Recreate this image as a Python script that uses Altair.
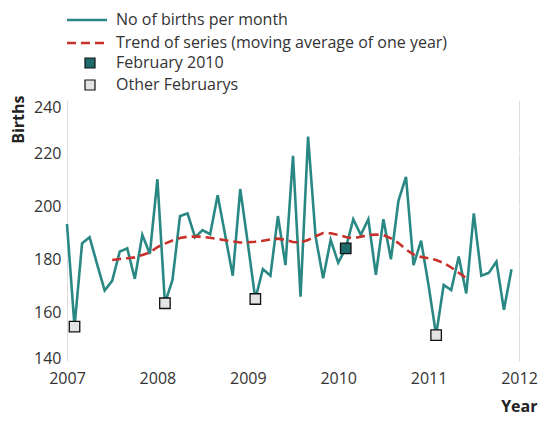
import altair as alt
import pandas as pd

# ---- data ----
start_year = 2007
births = [193.2, 154.5, 185.9, 188.2, 178.0, 168.1, 171.8, 182.8, 184.0, 172.5, 189.1, 181.9,
          210.1, 163.3, 172.1, 196.2, 197.2, 188.2, 190.9, 189.3, 204.1, 189.0, 173.7, 206.4,
          186.0, 164.9, 176.2, 173.7, 196.2, 177.7, 218.9, 165.8, 226.2, 188.4, 172.7, 187.2,
          178.6, 184.0, 195.0, 189.1, 195.0, 174.0, 195.0, 179.9, 202.0, 211.0, 177.7, 186.9,
          170.0, 151.3, 170.2, 168.3, 180.9, 167.0, 197.2, 173.7, 174.8, 179.0, 160.8, 176.1]
trend_first_month = 6  # July 2007
trend = [179.6, 180.0, 180.3, 180.6, 181.5, 182.5, 184.5, 185.8, 187.0, 187.9, 188.4, 188.5,
         188.4, 188.0, 187.6, 187.1, 186.6, 186.2, 186.3, 186.5, 186.9, 187.4, 187.7, 187.2,
         186.4, 186.3, 187.2, 188.6, 189.8, 189.7, 189.1, 188.3, 187.8, 188.4, 189.0, 189.2,
         189.0, 187.8, 186.0, 183.6, 181.7, 180.8, 180.3, 179.6, 178.5, 176.8, 174.8, 172.8]
series_names = ["No of births per month", "Trend of series (moving average of one year)"]
marker_names = ["February 2010", "Other Februarys"]
year_ticks = [2007, 2008, 2009, 2010, 2011, 2012]
births_ticks = [140, 160, 180, 200, 220, 240]

rows = []
for k, v in enumerate(births):
    rows.append({"t": start_year + k / 12, "births": v, "series": series_names[0]})
for i, v in enumerate(trend):
    k = trend_first_month + i
    rows.append({"t": start_year + k / 12, "births": v, "series": series_names[1]})
lines_df = pd.DataFrame(rows)

mk = []
for k, v in enumerate(births):
    if k % 12 == 1:
        year = start_year + k // 12
        mk.append({"t": start_year + k / 12, "births": v,
                   "marker": marker_names[0] if year == 2010 else marker_names[1]})
marker_df = pd.DataFrame(mk)

FONT = "Open Sans"
TEAL = "#2a8884"
RED = "#c8302a"

x = alt.X("t:Q",
          scale=alt.Scale(domain=[2007, 2012], nice=False, zero=False),
          axis=alt.Axis(values=year_ticks, format="d", title="Year", grid=False,
                        domain=False, tickSize=4, tickColor="white", tickWidth=2,
                        offset=-4, labelPadding=5, labelFontSize=16, labelColor="#333",
                        labelFont=FONT, titleFont=FONT, titleFontSize=16,
                        titleFontWeight="bold", titleColor="#222",
                        titleAnchor="end", titleAlign="right", titleX=470,
                        titleY=45, titleBaseline="middle", labelFlush=False))
y = alt.Y("births:Q",
          scale=alt.Scale(domain=[140, 240], nice=False, zero=False),
          axis=alt.Axis(values=births_ticks, title="Births", grid=True, gridColor="white",
                        gridWidth=2, domain=False, ticks=False, labelPadding=6,
                        labelFlush=True, labelFlushOffset=1,
                        labelFontSize=16, labelColor="#333", labelFont=FONT,
                        titleFont=FONT, titleFontSize=16, titleFontWeight="bold",
                        titleColor="#222", titleAngle=270, titleAlign="right",
                        titleBaseline="alphabetic", titleX=-44, titleY=-5))

lines = alt.Chart(lines_df).mark_line(strokeWidth=2.6).encode(
    x=x, y=y,
    color=alt.Color("series:N",
                    scale=alt.Scale(domain=series_names, range=[TEAL, RED]),
                    legend=alt.Legend(orient="none", legendX=12, legendY=-88, title=None,
                                      symbolType="M-4,0L4,0", symbolSize=100,
                                      symbolStrokeWidth=2.6, labelOffset=21,
                                      labelFontSize=16, labelFont=FONT, labelColor="#333",
                                      rowPadding=7, padding=0, labelLimit=500)),
    strokeDash=alt.StrokeDash("series:N",
                              scale=alt.Scale(domain=series_names, range=[[1, 0], [9, 5]]),
                              legend=None),
    detail="series:N",
)

points = alt.Chart(marker_df).mark_point(shape="square", filled=True, size=110,
                                         stroke="#111", strokeWidth=1.3, opacity=1).encode(
    x=alt.X("t:Q"), y=alt.Y("births:Q"),
    fill=alt.Fill("marker:N",
                  scale=alt.Scale(domain=marker_names, range=["#1e6b6b", "#e4e4e4"]),
                  legend=alt.Legend(orient="none", legendX=15, legendY=-45, title=None,
                                    symbolType="square", symbolSize=100,
                                    symbolStrokeColor="#111", symbolStrokeWidth=1.2,
                                    labelOffset=18, labelFontSize=16, labelFont=FONT,
                                    labelColor="#333", rowPadding=6, padding=0,
                                    labelLimit=500)),
)

chart = alt.layer(lines, points).properties(
    width=452, height=265,
    autosize=alt.AutoSizeParams(type="none"),
    padding={"left": 59, "top": 92, "right": 19, "bottom": 50},
).configure_view(fill="#ebebeb", stroke=None).configure(font=FONT)

chart.save("out.html", embed_options={"renderer": "svg", "actions": False})
